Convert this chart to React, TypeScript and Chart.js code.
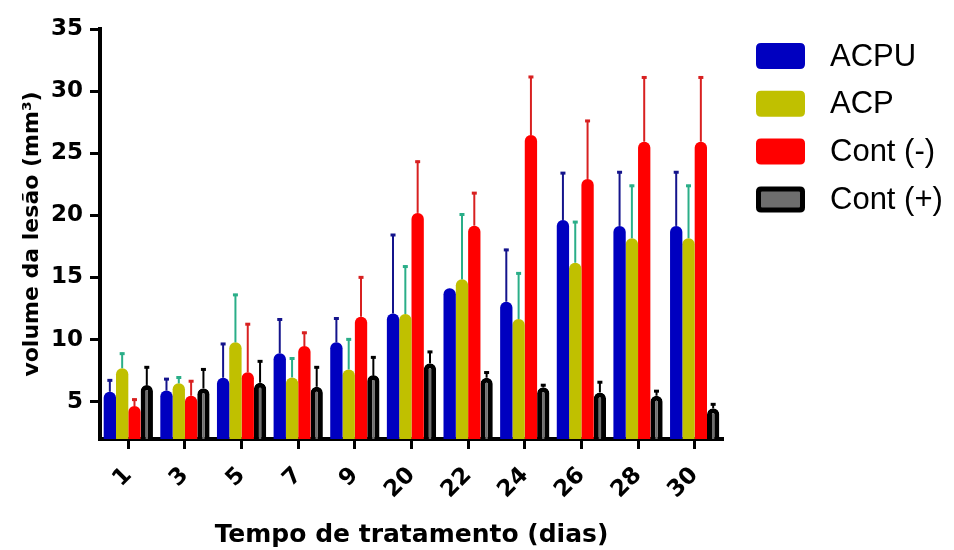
import React, { useEffect, useRef } from "react";
import { Chart, registerables } from "chart.js";

Chart.register(...registerables);

const categories = ["1", "3", "5", "7", "9", "20", "22", "24", "26", "28", "30"];
const seriesNames = ["ACPU", "ACP", "Cont (-)", "Cont (+)"];

const acpuMean = [5.8, 5.9, 6.93, 8.9, 9.78, 12.1, 14.13, 13.05, 19.63, 19.15, 19.15];
const acpuErr = [1.0, 1.0, 2.8, 2.8, 2.0, 6.4, 0, 4.25, 3.85, 4.4, 4.4];

const acpMean = [7.7, 6.48, 9.78, 6.96, 7.6, 12.06, 14.85, 11.66, 16.19, 18.16, 18.16];
const acpErr = [1.25, 0.55, 3.9, 1.6, 2.5, 3.9, 5.3, 3.75, 3.35, 4.3, 4.3];

const contNegMean = [4.65, 5.48, 7.37, 9.48, 11.84, 20.2, 19.17, 26.47, 22.93, 25.93, 25.93];
const contNegErr = [0.6, 1.25, 3.95, 1.15, 3.25, 4.2, 2.7, 4.75, 4.75, 5.25, 5.25];

const contPosMean = [6.35, 6.08, 6.53, 6.2, 7.15, 8.09, 6.93, 6.16, 5.75, 5.48, 4.47];
const contPosErr = [1.5, 1.6, 1.8, 1.65, 1.5, 1.0, 0.5, 0.25, 0.9, 0.45, 0.4];

const yTicks = [5, 10, 15, 20, 25, 30, 35];
const yMin = 2;
const yMax = 35;

const yTitle = "volume da lesão (mm³)";
const xTitle = "Tempo de tratamento (dias)";

const TICK_FONT = "'DejaVu Sans', sans-serif";
const LEGEND_FONT = "'Liberation Sans', Arial, sans-serif";

const errorBarPlugin = {
  id: "errorBars",
  afterDatasetsDraw(chart: any) {
    const ctx = chart.ctx;
    const yScale = chart.scales.y;
    chart.data.datasets.forEach((ds: any, i: number) => {
      const meta = chart.getDatasetMeta(i);
      meta.data.forEach((bar: any, j: number) => {
        const e = ds.errors[j];
        if (!e) return;
        const v = ds.data[j];
        const y0 = yScale.getPixelForValue(v);
        const y1 = yScale.getPixelForValue(v + e);
        ctx.save();
        ctx.strokeStyle = ds.errorColor;
        ctx.lineWidth = 2;
        ctx.beginPath();
        ctx.moveTo(bar.x, y0);
        ctx.lineTo(bar.x, y1);
        ctx.stroke();
        ctx.lineWidth = 3;
        ctx.beginPath();
        ctx.moveTo(bar.x - 2.5, y1 + 1);
        ctx.lineTo(bar.x + 2.5, y1 + 1);
        ctx.stroke();
        ctx.restore();
      });
    });
  },
};

function roundRectPath(ctx: any, x: number, y: number, w: number, h: number, r: number) {
  ctx.beginPath();
  ctx.moveTo(x + r, y);
  ctx.lineTo(x + w - r, y);
  ctx.quadraticCurveTo(x + w, y, x + w, y + r);
  ctx.lineTo(x + w, y + h - r);
  ctx.quadraticCurveTo(x + w, y + h, x + w - r, y + h);
  ctx.lineTo(x + r, y + h);
  ctx.quadraticCurveTo(x, y + h, x, y + h - r);
  ctx.lineTo(x, y + r);
  ctx.quadraticCurveTo(x, y, x + r, y);
  ctx.closePath();
}

const sideLegendPlugin = {
  id: "sideLegend",
  afterDraw(chart: any) {
    const ctx = chart.ctx;
    const boxX = 756;
    const firstTop = 43;
    const step = 47.8;
    const bw = 49;
    const bh = 26;
    const textX = 830;
    chart.data.datasets.forEach((ds: any, i: number) => {
      const top = firstTop + i * step;
      ctx.save();
      if (ds.borderWidth && ds.borderWidth > 0) {
        roundRectPath(ctx, boxX, top, bw, bh, 5);
        ctx.fillStyle = ds.borderColor;
        ctx.fill();
        const b = 5;
        roundRectPath(ctx, boxX + b, top + b, bw - 2 * b, bh - 2 * b, 1);
        ctx.fillStyle = ds.backgroundColor;
        ctx.fill();
      } else {
        roundRectPath(ctx, boxX, top, bw, bh, 5);
        ctx.fillStyle = ds.backgroundColor;
        ctx.fill();
      }
      ctx.fillStyle = "#000";
      ctx.font = `31px ${LEGEND_FONT}`;
      ctx.textBaseline = "middle";
      ctx.textAlign = "left";
      ctx.fillText(ds.label, textX, top + bh / 2 + 1);
      ctx.restore();
    });
  },
};

export default function App() {
  const canvasRef = useRef<HTMLCanvasElement | null>(null);

  useEffect(() => {
    if (!canvasRef.current) return;
    const chart = new Chart(canvasRef.current, {
      type: "bar",
      data: {
        labels: categories,
        datasets: [
          {
            label: seriesNames[0],
            data: acpuMean,
            errors: acpuErr,
            errorColor: "#14148c",
            backgroundColor: "#0000c0",
            borderWidth: 0,
            borderRadius: 6,
          },
          {
            label: seriesNames[1],
            data: acpMean,
            errors: acpErr,
            errorColor: "#2aae88",
            backgroundColor: "#c0c000",
            borderWidth: 0,
            borderRadius: 6,
          },
          {
            label: seriesNames[2],
            data: contNegMean,
            errors: contNegErr,
            errorColor: "#d82020",
            backgroundColor: "#ff0000",
            borderWidth: 0,
            borderRadius: 6,
          },
          {
            label: seriesNames[3],
            data: contPosMean,
            errors: contPosErr,
            errorColor: "#000000",
            backgroundColor: "#6e6e6e",
            borderColor: "#000000",
            borderWidth: 5,
            borderRadius: 6,
          },
        ] as any,
      },
      options: {
        animation: false,
        responsive: false,
        devicePixelRatio: 1,
        layout: { padding: { top: 29, right: 231, left: 0, bottom: 0 } },
        datasets: {
          bar: { categoryPercentage: 0.87, barPercentage: 1.0 },
        },
        plugins: {
          legend: { display: false },
          tooltip: { enabled: false },
        },
        scales: {
          x: {
            offset: true,
            grid: {
              offset: false,
              drawOnChartArea: false,
              drawTicks: true,
              tickLength: 10,
              tickWidth: 3,
              tickColor: "#000",
            },
            border: { display: true, color: "#000", width: 4 },
            ticks: {
              color: "#000",
              font: { family: TICK_FONT, size: 23, weight: "bold" },
              minRotation: 45,
              maxRotation: 45,
              autoSkip: false,
              padding: 13,
            },
            title: {
              display: true,
              text: xTitle,
              color: "#000",
              font: { family: TICK_FONT, size: 25, weight: "bold" },
              padding: { top: 0, bottom: 0 },
            },
            afterFit(scale: any) {
              scale.height = 111;
            },
          },
          y: {
            min: yMin,
            max: yMax,
            grid: {
              drawOnChartArea: false,
              drawTicks: true,
              tickLength: 10,
              tickWidth: 3,
              tickColor: "#000",
            },
            border: { display: true, color: "#000", width: 4 },
            ticks: {
              color: "#000",
              font: { family: TICK_FONT, size: 23, weight: "bold" },
              padding: 7,
            },
            afterBuildTicks(scale: any) {
              scale.ticks = yTicks.map((v) => ({ value: v }));
            },
            title: {
              display: true,
              text: yTitle,
              color: "#000",
              font: { family: TICK_FONT, size: 22, weight: "bold" },
              padding: { top: 19, bottom: 0 },
            },
            afterFit(scale: any) {
              scale.width = 100;
            },
          },
        },
      } as any,
      plugins: [errorBarPlugin, sideLegendPlugin],
    });
    return () => chart.destroy();
  }, []);

  return (
    <div style={{ position: "absolute", left: 0, top: 0, width: 954, height: 550, background: "#fff" }}>
      <canvas ref={canvasRef} width={954} height={550} />
    </div>
  );
}
